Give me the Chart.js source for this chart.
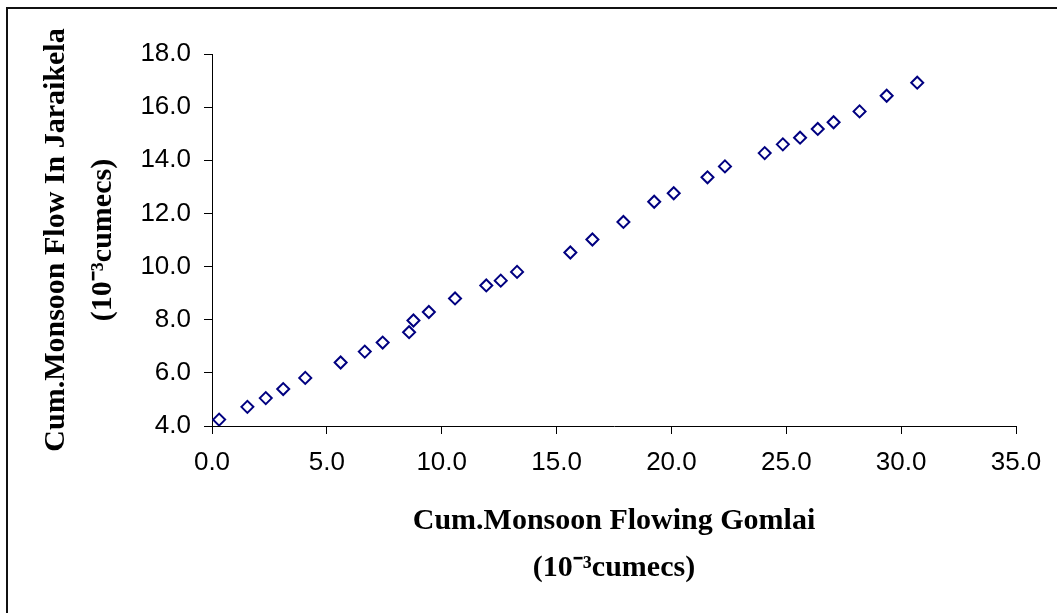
<!DOCTYPE html>
<html>
<head>
<meta charset="utf-8">
<title>Cumulative monsoon flow</title>
<script src="https://cdn.jsdelivr.net/npm/chart.js@4.4.1/dist/chart.umd.min.js"></script>
<style>
  html, body { margin: 0; padding: 0; background: #fff; }
  .wrap { position: relative; width: 1057px; height: 613px; overflow: hidden; }
  .frame { position: absolute; left: 6px; top: 7px; width: 1200px; height: 800px; border: 2px solid #111; }
  #myChart { position: absolute; left: 0; top: 0; }
</style>
</head>
<body>
<div class="wrap">
  <div class="frame"></div>
  <canvas id="myChart" width="1057" height="613"></canvas>
</div>
<script>
// Cum. monsoon flow, Gomlai (x) vs Jaraikela (y), 10^-3 cumecs
const gomlai = [
  0.31, 1.54, 2.34, 3.10, 4.06, 5.60, 6.65, 7.43, 8.58, 8.77,
  9.44, 10.58, 11.94, 12.57, 13.28, 15.60, 16.56, 17.91, 19.25, 20.10,
  21.57, 22.33, 24.06, 24.85, 25.60, 26.37, 27.06, 28.19, 29.37, 30.70,
];
const jaraikela = [
  4.24, 4.72, 5.05, 5.39, 5.81, 6.39, 6.80, 7.14, 7.53, 7.97,
  8.29, 8.80, 9.29, 9.47, 9.80, 10.53, 11.02, 11.68, 12.44, 12.76,
  13.36, 13.77, 14.27, 14.60, 14.85, 15.18, 15.43, 15.84, 16.43, 16.92,
];
const xTicks = [0, 5, 10, 15, 20, 25, 30, 35];
const yTicks = [4, 6, 8, 10, 12, 14, 16, 18];
const xTitle = ['Cum.Monsoon Flowing Gomlai', '(10\u207B\u00B3cumecs)'];
const yTitle = ['Cum.Monsoon Flow In Jaraikela', '(10\u207B\u00B3cumecs)'];

const points = gomlai.map((x, i) => ({ x, y: jaraikela[i] }));

const tickFont = { family: '"Liberation Sans", Arial, sans-serif', size: 26 };
const titleFont = { family: '"Liberation Serif", "Times New Roman", serif', size: 30, weight: 'bold', lineHeight: 1.55 };

const ctx = document.querySelector('#myChart');
// eslint-disable-next-line no-unused-vars
const scatter = new Chart(ctx, {
  type: 'scatter',
  data: {
    datasets: [{
      label: 'Gomlai vs Jaraikela',
      data: points,
      pointStyle: 'rectRot',
      pointRadius: 6,
      pointBorderWidth: 2,
      borderColor: '#000080',
      backgroundColor: 'rgba(0,0,0,0)',
    }],
  },
  options: {
    responsive: false,
    animation: false,
    layout: { padding: { top: 54, right: 41, left: 0, bottom: 0 } },
    plugins: { legend: { display: false }, tooltip: { enabled: false } },
    scales: {
      x: {
        type: 'linear',
        min: xTicks[0],
        max: xTicks[xTicks.length - 1],
        afterBuildTicks: (s) => { s.ticks = xTicks.map((v) => ({ value: v })); },
        afterFit: (s) => { s.height = 187; },
        ticks: { font: tickFont, color: '#000', padding: 13, maxRotation: 0, callback: (v) => Number(v).toFixed(1) },
        grid: { drawOnChartArea: false, drawTicks: true, tickLength: 8, color: '#000' },
        border: { color: '#000', width: 1 },
        title: { display: true, text: xTitle, font: titleFont, color: '#000', padding: { top: 0, bottom: 22 } },
      },
      y: {
        type: 'linear',
        min: yTicks[0],
        max: yTicks[yTicks.length - 1],
        afterBuildTicks: (s) => { s.ticks = yTicks.map((v) => ({ value: v })); },
        afterFit: (s) => { s.width = 212; },
        ticks: { font: tickFont, color: '#000', padding: 13, callback: (v) => Number(v).toFixed(1) },
        grid: { drawOnChartArea: false, drawTicks: true, tickLength: 8, color: '#000' },
        border: { color: '#000', width: 1 },
        title: { display: true, text: yTitle, font: titleFont, color: '#000', padding: { top: 33, bottom: 0 } },
      },
    },
  },
});
</script>
</body>
</html>
